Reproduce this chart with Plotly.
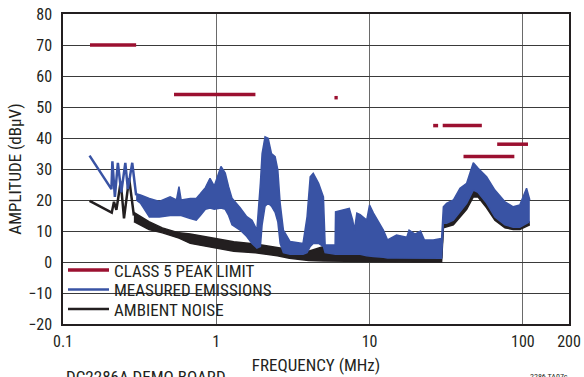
import math
import plotly.graph_objects as go

# ---------------- data ----------------
# CISPR 25 class 5 peak limit segments (MHz, dBuV)
LIMIT_F_START = [0.15, 0.53, 5.9, 26, 30, 41, 68]
LIMIT_F_END = [0.30, 1.8, 6.2, 28, 54, 88, 108]
LIMIT_DBUV = [70, 54, 53, 44, 44, 34, 38]

# Measured emissions: low-frequency part drawn as a line
EMI_LINE_F = [0.149, 0.207, 0.210, 0.218, 0.228, 0.240, 0.255, 0.265, 0.283, 0.300]
EMI_LINE_DB = [34.3, 23.5, 32.5, 21.0, 32.0, 22.5, 32.0, 23.5, 32.0, 21.5]

# Measured emissions: dense part as lower / upper envelope
EMI_BAND_F = [0.30, 0.32, 0.366, 0.425, 0.50, 0.55, 0.571, 0.59, 0.677, 0.74, 0.787, 0.849,
              0.91, 0.97, 1.073, 1.144, 1.203, 1.266, 1.43, 1.58, 1.71, 1.84, 1.94, 1.99,
              2.08, 2.18, 2.29, 2.42, 2.52, 2.61, 2.74, 3.03, 3.68, 3.91, 4.1, 4.29, 4.65,
              5.0, 5.13, 5.96, 6.0, 6.7, 7.37, 7.76, 7.96, 8.26, 8.68, 9.58, 10.0, 10.6,
              12.3, 13.1, 15.0, 17.5, 18.1, 19.8, 21.5, 22.8, 26.0, 28.8, 29.5, 30.3, 31.8,
              35.2, 38.9, 43.0, 47.5, 50.9, 58.0, 65.7, 76.4, 86.5, 95.5, 105.7, 111.0]
EMI_BAND_LO = [20.0, 19.0, 14.5, 14.5, 15.0, 15.0, 15.0, 15.0, 14.0, 13.5, 15.0, 17.0,
               17.4, 17.0, 17.4, 17.0, 15.0, 12.0, 10.3, 8.2, 6.0, 4.5, 5.0, 12.0,
               18.0, 19.0, 18.0, 16.0, 13.0, 6.0, 3.0, 2.5, 2.5, 3.0, 5.0, 6.0, 6.0,
               5.0, 3.0, 2.5, 2.5, 2.5, 2.5, 2.5, 2.5, 2.5, 2.5, 2.0, 2.0, 1.8,
               1.5, 1.3, 1.3, 1.3, 1.3, 1.3, 1.3, 1.2, 1.2, 1.2, 1.2, 12.5, 12.5,
               13.5, 16.2, 18.9, 23.2, 22.5, 19.0, 14.5, 12.0, 11.2, 11.2, 12.5, 13.0]
EMI_BAND_HI = [22.0, 21.6, 20.5, 19.5, 21.0, 20.0, 24.3, 20.0, 20.5, 20.5, 22.0, 24.0,
               27.0, 24.5, 30.8, 28.7, 24.3, 20.6, 17.5, 14.6, 13.5, 10.3, 25.5, 35.0,
               40.4, 39.9, 35.0, 34.0, 29.7, 19.0, 10.3, 6.6, 6.0, 14.6, 27.5, 28.6, 25.4,
               21.0, 5.5, 5.5, 16.2, 16.8, 17.3, 13.5, 10.3, 15.8, 15.3, 13.5, 18.4, 15.8,
               10.3, 7.1, 8.7, 8.0, 10.3, 9.0, 10.0, 7.1, 7.1, 7.5, 7.5, 17.8, 18.9,
               20.0, 23.8, 25.4, 32.0, 30.3, 27.5, 23.2, 19.4, 17.8, 18.4, 23.8, 20.0]

# Ambient noise: low-frequency part drawn as a line
NOISE_LINE_F = [0.149, 0.208, 0.215, 0.223, 0.238, 0.250, 0.270, 0.290]
NOISE_LINE_DB = [19.7, 15.9, 19.4, 16.8, 25.9, 14.1, 27.0, 15.0]

# Ambient noise: lower / upper envelope
NOISE_BAND_F = [0.29, 0.364, 0.445, 0.571, 0.677, 1.0, 1.3, 1.8, 2.5, 3.0, 4.0, 5.0,
                6.0, 8.0, 10.0, 20.0, 29.5, 30.3, 35.2, 43.0, 47.5, 50.9, 58.0, 65.7,
                76.4, 86.5, 95.5, 105.7, 111.0]
NOISE_BAND_LO = [13.0, 10.5, 9.4, 7.7, 6.0, 4.5, 3.5, 3.0, 2.0, 1.2, 0.5, 0.3,
                 0.3, 0.3, 0.2, 0.0, 0.0, 11.0, 12.0, 17.0, 21.0, 21.0, 17.5, 13.5,
                 11.0, 10.5, 10.5, 11.5, 12.0]
NOISE_BAND_HI = [16.0, 13.0, 11.0, 9.4, 9.0, 7.5, 6.5, 5.8, 4.5, 4.0, 3.5, 5.0,
                 3.5, 3.5, 2.5, 1.5, 1.5, 13.0, 13.5, 19.0, 23.5, 22.5, 19.0, 14.5,
                 12.0, 11.2, 11.2, 12.5, 13.0]

X_TICKS = [0.1, 1, 10, 100, 200]
X_TICK_TEXT = ["0.1", "1", "10", "100", "200"]
Y_TICKS = [-20, -10, 0, 10, 20, 30, 40, 50, 60, 70, 80]
Y_TICK_TEXT = ["\u221220", "\u221210", "0", "10", "20", "30", "40", "50", "60", "70", "80"]

RED = "#9b1030"
BLUE = "#3953a4"
BLACK = "#231f20"
FONT = "Liberation Sans Narrow, Arial Narrow, Roboto Condensed, sans-serif"

# plot-area geometry in page pixels
PL, PR, PT, PB = 62.5, 569.0, 14.0, 324.0
W, H = 584, 377


def py(pix):
    return (PB - pix) / (PB - PT)


def px(pix):
    return (pix - PL) / (PR - PL)


# ---------------- figure ----------------
fig = go.Figure()

# ambient noise band
fig.add_trace(go.Scatter(x=NOISE_BAND_F, y=NOISE_BAND_LO, mode="lines",
                         line=dict(color=BLACK, width=1.5), showlegend=False, hoverinfo="skip"))
fig.add_trace(go.Scatter(x=NOISE_BAND_F, y=NOISE_BAND_HI, mode="lines", fill="tonexty",
                         fillcolor=BLACK, line=dict(color=BLACK, width=1.5),
                         showlegend=False, hoverinfo="skip"))
fig.add_trace(go.Scatter(x=NOISE_LINE_F, y=NOISE_LINE_DB, mode="lines", name="AMBIENT NOISE",
                         line=dict(color=BLACK, width=2.5), legend="legend3"))

# measured emissions band
fig.add_trace(go.Scatter(x=EMI_BAND_F, y=EMI_BAND_LO, mode="lines",
                         line=dict(color=BLUE, width=1.5), showlegend=False, hoverinfo="skip"))
fig.add_trace(go.Scatter(x=EMI_BAND_F, y=EMI_BAND_HI, mode="lines", fill="tonexty",
                         fillcolor=BLUE, line=dict(color=BLUE, width=1.5),
                         showlegend=False, hoverinfo="skip"))
fig.add_trace(go.Scatter(x=EMI_LINE_F, y=EMI_LINE_DB, mode="lines", name="MEASURED EMISSIONS",
                         line=dict(color=BLUE, width=2.5), legend="legend2"))

# limit segments
lim_x, lim_y = [], []
for f0, f1, v in zip(LIMIT_F_START, LIMIT_F_END, LIMIT_DBUV):
    lim_x += [f0, f1, None]
    lim_y += [v, v, None]
fig.add_trace(go.Scatter(x=lim_x, y=lim_y, mode="lines", name="CLASS 5 PEAK LIMIT",
                         line=dict(color=RED, width=3.5), legend="legend"))


def leg(center_pix):
    return dict(x=px(62.5), y=py(center_pix), xanchor="left", yanchor="middle",
                bgcolor="rgba(0,0,0,0)", borderwidth=0, font=dict(size=17),
                itemwidth=41, traceorder="normal")


fig.update_layout(
    width=W, height=H,
    margin=dict(l=PL, r=W - PR, t=PT, b=H - PB),
    paper_bgcolor="white", plot_bgcolor="white",
    font=dict(family=FONT, size=16, color="#231f20"),
    showlegend=True,
    legend=leg(270.5),
    legend2=leg(290.0),
    legend3=leg(309.5),
)
# white box behind the legend (covers gridlines, below traces)
fig.add_shape(type="rect", xref="paper", yref="paper", layer="between",
              x0=px(63.5), x1=px(277.5), y0=py(323), y1=py(256),
              fillcolor="white", line=dict(width=0))

fig.update_xaxes(type="log", range=[-1, math.log10(200)], automargin=False,
                 tickvals=X_TICKS, ticktext=X_TICK_TEXT,
                 showgrid=True, gridcolor="#6a6a6a", gridwidth=1,
                 showline=True, linecolor="#231f20", linewidth=1.5, mirror=True,
                 ticks="", ticklabelstandoff=2,
                 title=dict(text="FREQUENCY (MHz)", standoff=9, font=dict(size=17)))
fig.update_yaxes(range=[-20, 80], tickvals=Y_TICKS, ticktext=Y_TICK_TEXT, automargin=False,
                 showgrid=True, gridcolor="#3a3a3a", gridwidth=1, zeroline=False,
                 showline=True, linecolor="#231f20", linewidth=1.5, mirror=True,
                 ticks="", ticklabelstandoff=6,
                 title=dict(text="AMPLITUDE (dB\u03bcV)", standoff=2, font=dict(size=17)))

fig.add_annotation(text="DC2286A DEMO BOARD", xref="paper", yref="paper",
                   x=px(64), y=py(365), xanchor="left", yanchor="top",
                   showarrow=False, font=dict(size=17))
fig.add_annotation(text="2286 TA07c", xref="paper", yref="paper",
                   x=px(570), y=py(370), xanchor="right", yanchor="top",
                   showarrow=False, font=dict(size=8))

fig.write_html("out.html", config={"displayModeBar": False},
               post_script="document.body.style.margin='0px';")
